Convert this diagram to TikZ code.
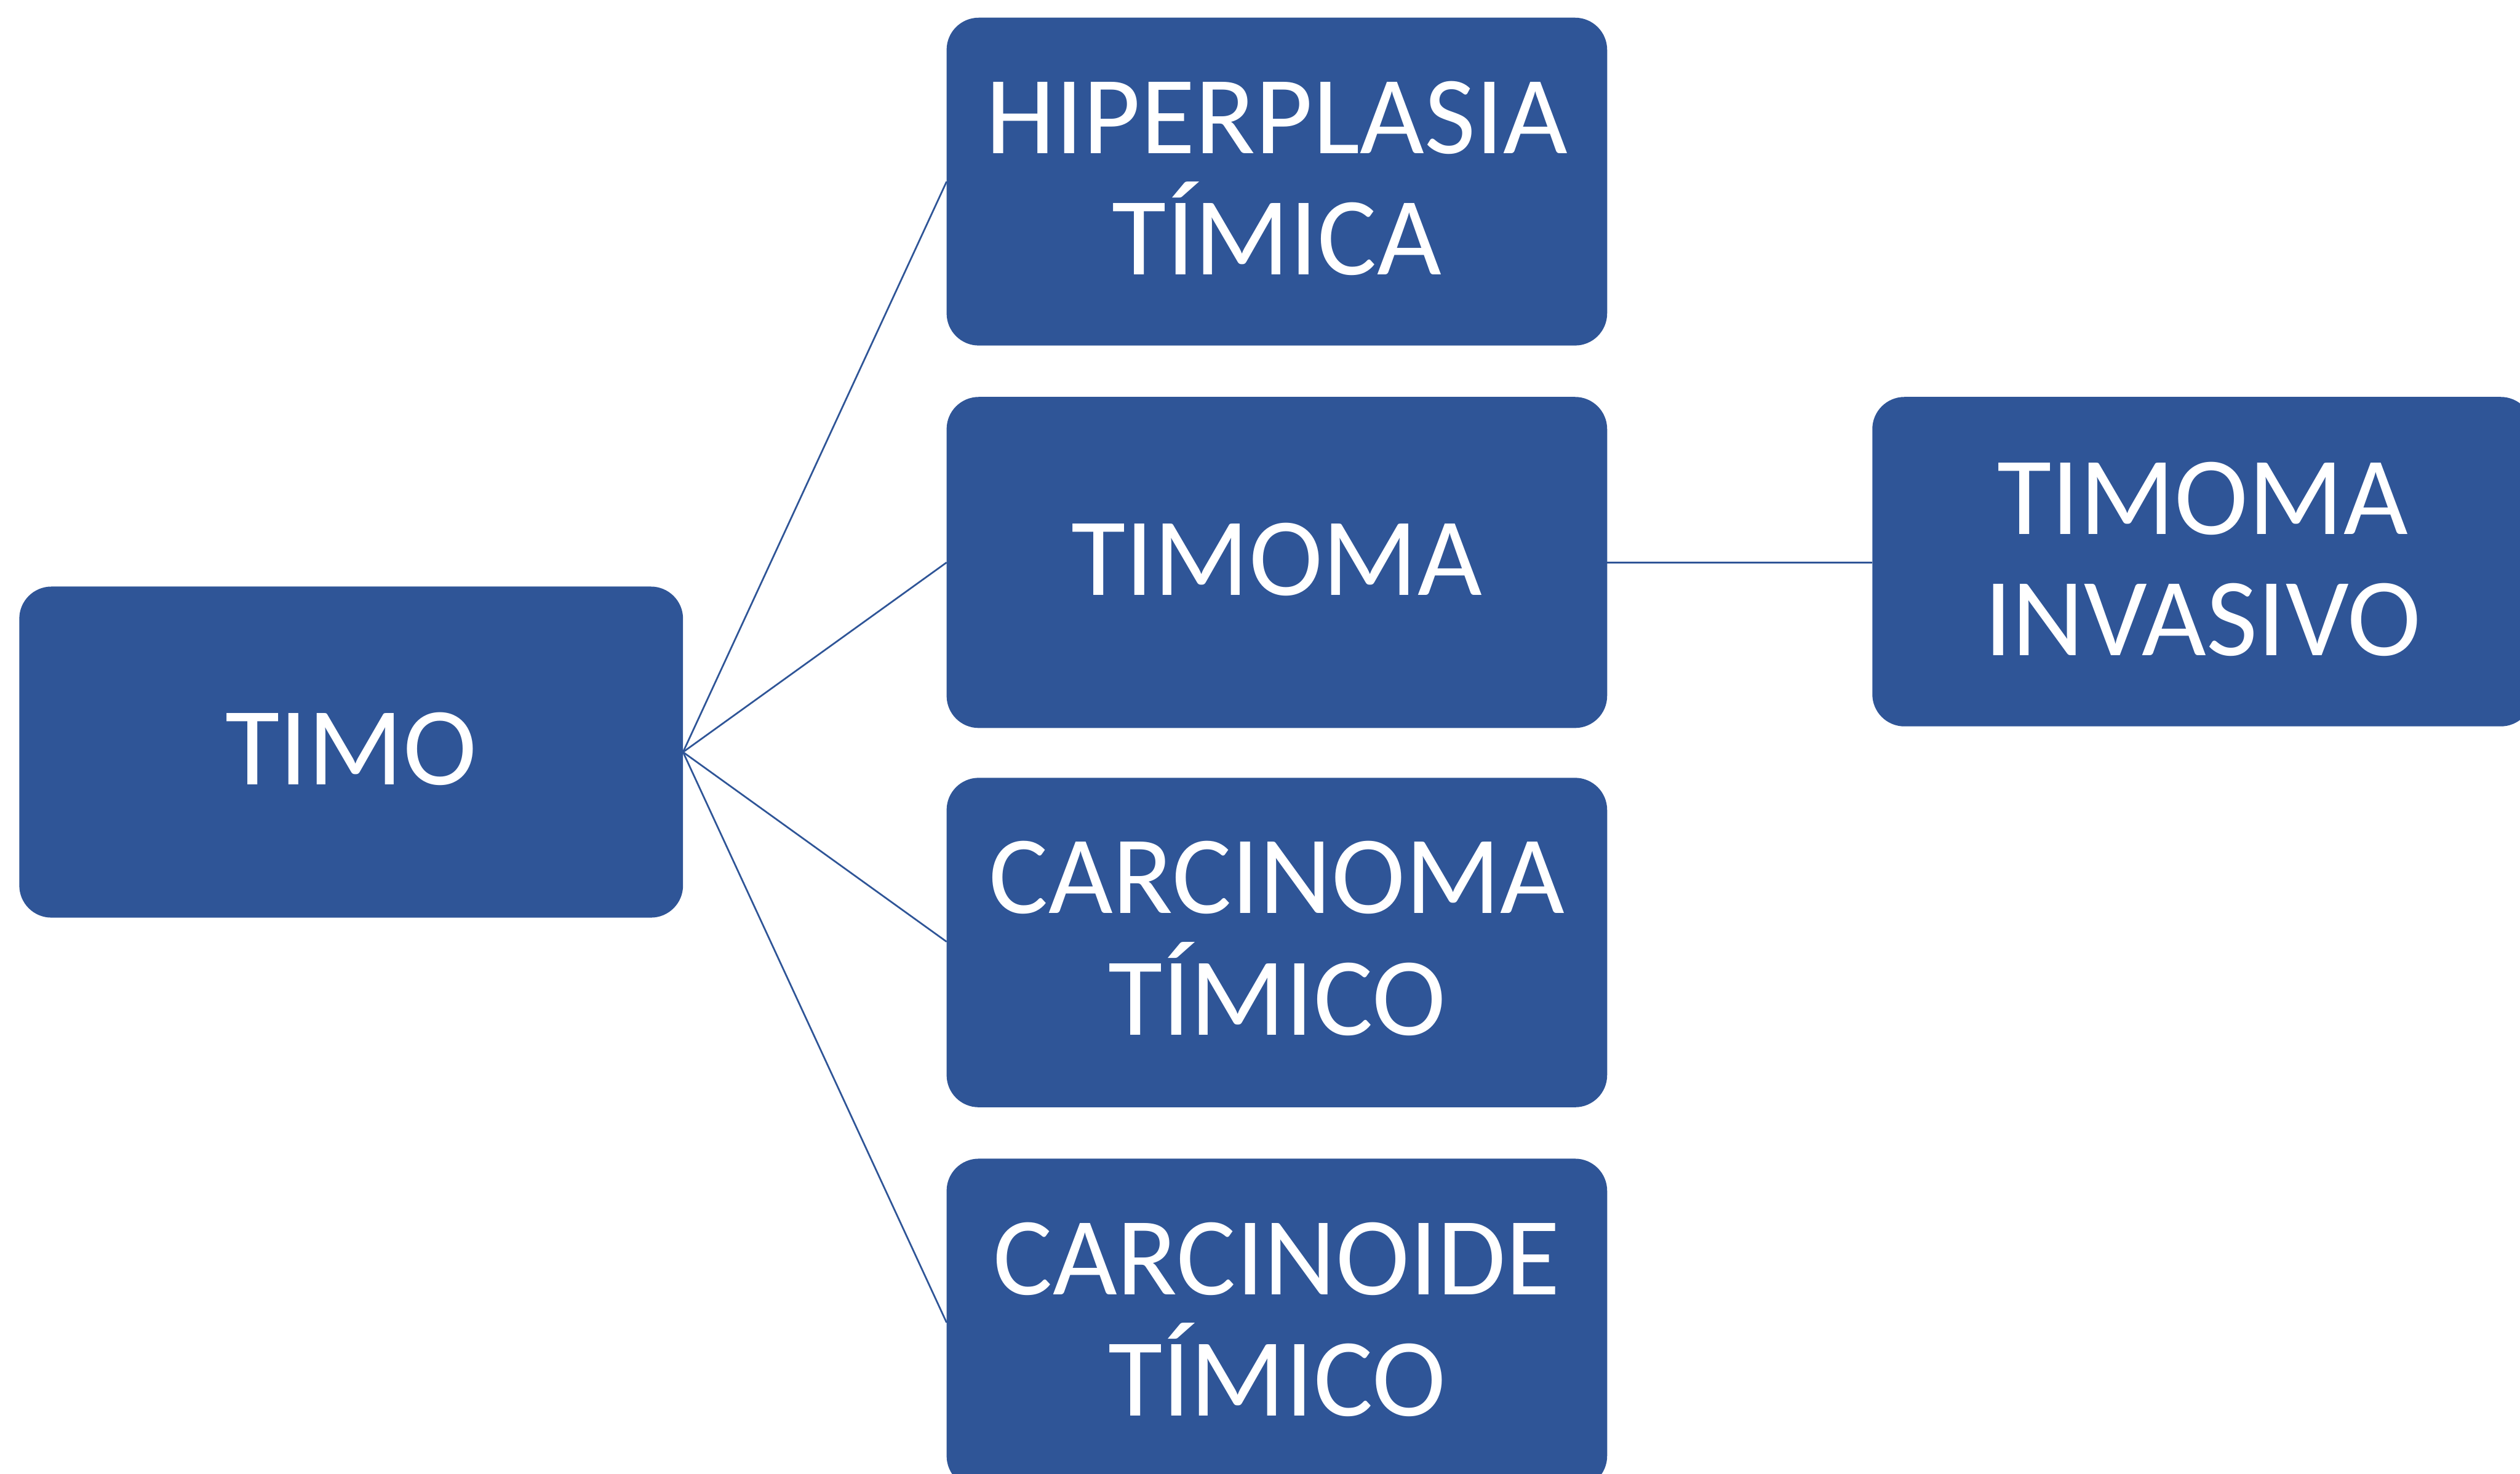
\documentclass[tikz,border=0pt]{standalone}
\usepackage{fontspec}
\setmainfont{Carlito}
\definecolor{boxblue}{HTML}{2F5597}
\begin{document}
\begin{tikzpicture}[x=0.1mm,y=-0.1mm,
  box/.style={draw=none,fill=boxblue,rounded corners=2mm},
  lbl/.style={text=white,align=center,font=\fontsize{19.7pt}{21.5pt}\selectfont},
  link/.style={draw=boxblue,line width=0.3pt}]
\useasboundingbox (0,0) rectangle (1568,917);
\path[box] (12,365) rectangle (425,571);
\node[lbl] (timo) at (218.5,466) {TIMO};
\coordinate (timoR) at (425,468);
\path[box] (589,11) rectangle (1000,215);
\node[lbl] (hip) at (794.5,111) {HIPERPLASIA\\TÍMICA};
\coordinate (hipL) at (589,113);
\path[box] (589,247) rectangle (1000,453);
\node[lbl] (tim) at (794.5,348) {TIMOMA};
\coordinate (timL) at (589,350);
\coordinate (timR) at (1000,350);
\path[box] (589,484) rectangle (1000,689);
\node[lbl] (car) at (794.5,584) {CARCINOMA\\TÍMICO};
\coordinate (carL) at (589,586);
\path[box] (589,721) rectangle (1000,926);
\node[lbl] (cid) at (794.5,821) {CARCINOIDE\\TÍMICO};
\coordinate (cidL) at (589,823);
\path[box] (1165,247) rectangle (1576,452);
\node[lbl] (inv) at (1370.5,348) {TIMOMA\\INVASIVO};
\coordinate (invL) at (1165,350);
\draw[link] (timoR) -- (hipL);
\draw[link] (timoR) -- (timL);
\draw[link] (timoR) -- (carL);
\draw[link] (timoR) -- (cidL);
\draw[link] (timR) -- (invL);
\end{tikzpicture}
\end{document}
